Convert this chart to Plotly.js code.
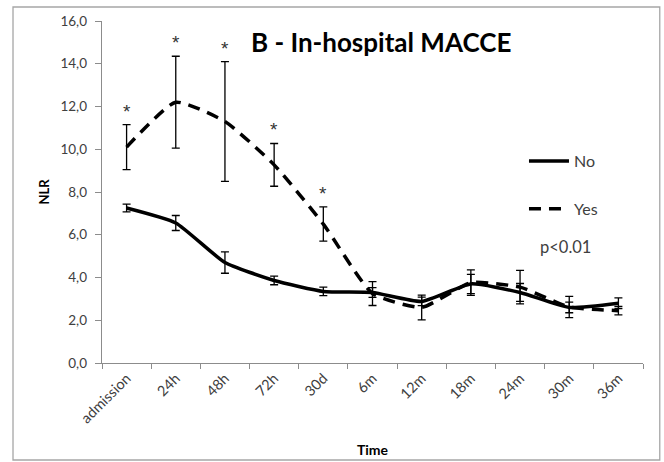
<!DOCTYPE html>
<html>
<head>
<meta charset="utf-8">
<script src="https://cdn.plot.ly/plotly-3.0.1.min.js"></script>
<style>
  html, body { margin: 0; padding: 0; background: #ffffff; }
  #chart { width: 664px; height: 462px; }
</style>
</head>
<body>
<div id="chart"></div>
<script>
// Time points of follow-up
const categories = ['admission', '24h', '48h', '72h', '30d', '6m', '12m', '18m', '24m', '30m', '36m'];

// NLR, patients without in-hospital MACCE (mean and error)
const noMean = [7.25, 6.55, 4.7, 3.86, 3.35, 3.3, 2.88, 3.7, 3.3, 2.6, 2.8];
const noErr  = [0.18, 0.35, 0.5, 0.2, 0.2, 0.23, 0.2, 0.45, 0.42, 0.25, 0.25];

// NLR, patients with in-hospital MACCE (mean and error)
const yesMean = [10.1, 12.2, 11.3, 9.27, 6.5, 3.25, 2.6, 3.76, 3.55, 2.62, 2.45];
const yesErr  = [1.05, 2.15, 2.8, 1.0, 0.8, 0.56, 0.58, 0.6, 0.78, 0.5, 0.2];

// Time points with a significant difference
const significant = ['admission', '24h', '48h', '72h', '30d'];

const FONT = 'Lato, "Open Sans", sans-serif';
const STAR_FONT = '"Liberation Sans", "DejaVu Sans", sans-serif';
const INK = '#404040';

const traceNo = {
  x: categories, y: noMean, name: 'No', type: 'scatter', mode: 'lines',
  line: { color: '#000000', width: 3.5, shape: 'spline', smoothing: 0.5 },
  error_y: { type: 'data', array: noErr, visible: true, color: '#000000', thickness: 1.3, width: 4 },
  legendgroup: 'no'
};
const traceYes = {
  x: categories, y: yesMean, name: 'Yes', type: 'scatter', mode: 'lines',
  line: { color: '#000000', width: 3.5, dash: '12px,8px', shape: 'spline', smoothing: 0.5 },
  error_y: { type: 'data', array: yesErr, visible: true, color: '#000000', thickness: 1.3, width: 4 },
  legendgroup: 'yes'
};

// Asterisks above the upper error bar of the significant time points
const starNotes = significant.map(function (c) {
  const i = categories.indexOf(c);
  return {
    x: c, y: yesMean[i] + yesErr[i], xref: 'x', yref: 'y',
    text: '*', showarrow: false, yanchor: 'bottom', yshift: 1,
    font: { family: STAR_FONT, size: 19, color: '#333333' }
  };
});

const layout = {
  width: 664, height: 462,
  margin: { l: 102, r: 21, t: 21, b: 99, pad: 0 },
  paper_bgcolor: '#ffffff', plot_bgcolor: '#ffffff',
  separators: ', ',
  font: { family: FONT, color: INK },
  title: {
    text: '<b>B - In-hospital MACCE</b>',
    font: { family: FONT, size: 26, color: '#000000' },
    x: 0.574, xanchor: 'center', xref: 'container',
    y: 0.907, yanchor: 'middle', yref: 'container'
  },
  xaxis: {
    type: 'category',
    showline: true, linecolor: '#8c8c8c', linewidth: 1.3,
    showgrid: false, zeroline: false,
    ticks: 'outside', tickson: 'boundaries', ticklen: 5, tickcolor: '#8c8c8c',
    tickangle: -45, tickfont: { family: FONT, size: 14.5, color: INK },
    title: { text: '<b>Time</b>', font: { family: FONT, size: 14, color: '#000000' }, standoff: 20 },
    range: [-0.5, 10.5], fixedrange: true
  },
  yaxis: {
    range: [0, 16], dtick: 2, tickformat: '.1f',
    showline: true, linecolor: '#8c8c8c', linewidth: 1.3,
    showgrid: false, zeroline: false,
    ticks: 'outside', ticklen: 6, tickcolor: '#8c8c8c',
    ticklabelstandoff: 5,
    tickfont: { family: FONT, size: 13.5, color: INK },
    title: { text: '<b>NLR</b>', font: { family: FONT, size: 13, color: '#000000' }, standoff: 8 },
    fixedrange: true
  },
  showlegend: true,
  legend: {
    x: 0.78, xanchor: 'left', y: 0.64, yanchor: 'top',
    bgcolor: 'rgba(0,0,0,0)', borderwidth: 0,
    font: { family: FONT, size: 16, color: INK },
    tracegroupgap: 24, traceorder: 'grouped', itemwidth: 40
  },
  annotations: starNotes.concat([
    {
      x: 0.857, y: 0.34, xref: 'paper', yref: 'paper',
      text: 'p<0.01', showarrow: false, xanchor: 'center', yanchor: 'middle',
      font: { family: FONT, size: 16.5, color: INK }
    }
  ]),
  shapes: [
    {
      type: 'rect', xref: 'paper', yref: 'paper', layer: 'below',
      x0: -0.1645, x1: 1.031, y0: -0.2836, y1: 1.041,
      line: { color: '#a6a6a6', width: 1.3 }, fillcolor: 'rgba(0,0,0,0)'
    }
  ]
};

Plotly.newPlot('chart', [traceNo, traceYes], layout, { displayModeBar: false, staticPlot: true });
</script>
</body>
</html>
